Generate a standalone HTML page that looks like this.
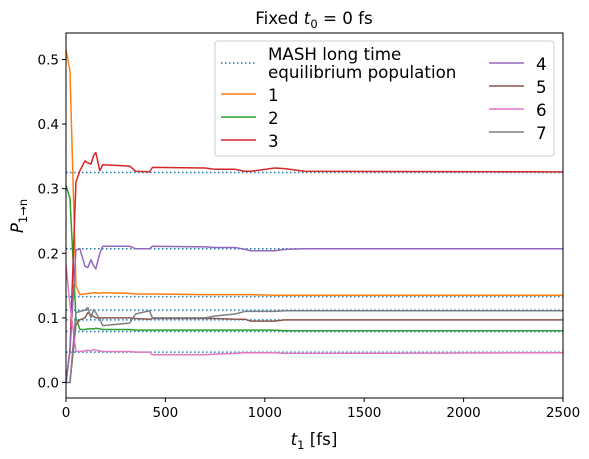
<!DOCTYPE html>
<html><head><meta charset="utf-8"><style>
body{margin:0;background:#fff}
svg{display:block;font-family:"DejaVu Sans","Liberation Sans",sans-serif}
</style></head><body>
<svg id="chart" width="589" height="459" viewBox="0 0 589 459" xmlns="http://www.w3.org/2000/svg">
<rect width="589" height="459" fill="#fff"/>
<g id="plot"></g>
<g id="axes"></g>
<text x="314" y="24" font-size="16.7" text-anchor="middle">Fixed <tspan font-style="italic">t</tspan><tspan font-size="11.5" dy="4">0</tspan><tspan dy="-4"> = 0 fs</tspan></text>
<text x="314" y="445" font-size="16.7" text-anchor="middle"><tspan font-style="italic">t</tspan><tspan font-size="11.5" dy="4">1</tspan><tspan dy="-4"> [fs]</tspan></text>
<text transform="translate(23,216) rotate(-90)" font-size="16.7" text-anchor="middle"><tspan font-style="italic">P</tspan><tspan font-size="11.5" dy="4">1→n</tspan></text>
<g id="legend">
<rect x="215" y="41" width="339" height="115" rx="3" fill="#fff" fill-opacity="0.8" stroke="#ccc"/>
<line x1="221" y1="63" x2="256" y2="63" stroke="#1f77b4" stroke-width="1.5" stroke-dasharray="1.5,2.5"/>
<text x="268" y="60" font-size="16.7">MASH long time</text>
<text x="268" y="78" font-size="16.7">equilibrium population</text>
<line x1="221" y1="94" x2="256" y2="94" stroke="#ff7f0e" stroke-width="1.5"/><text x="268" y="101" font-size="16.7">1</text>
<line x1="221" y1="117" x2="256" y2="117" stroke="#2ca02c" stroke-width="1.5"/><text x="268" y="124" font-size="16.7">2</text>
<line x1="221" y1="140" x2="256" y2="140" stroke="#d62728" stroke-width="1.5"/><text x="268" y="147" font-size="16.7">3</text>
<line x1="489" y1="63" x2="524" y2="63" stroke="#9467bd" stroke-width="1.5"/><text x="536" y="70" font-size="16.7">4</text>
<line x1="489" y1="86" x2="524" y2="86" stroke="#8c564b" stroke-width="1.5"/><text x="536" y="93" font-size="16.7">5</text>
<line x1="489" y1="109" x2="524" y2="109" stroke="#e377c2" stroke-width="1.5"/><text x="536" y="116" font-size="16.7">6</text>
<line x1="489" y1="132" x2="524" y2="132" stroke="#7f7f7f" stroke-width="1.5"/><text x="536" y="139" font-size="16.7">7</text>
</g>
</svg>
<script>
const xTicks = [0, 500, 1000, 1500, 2000, 2500];
const yTicks = [0.0, 0.1, 0.2, 0.3, 0.4, 0.5];
const yTickLabels = ["0.0", "0.1", "0.2", "0.3", "0.4", "0.5"];
const equilibrium = [0.325, 0.207, 0.133, 0.112, 0.097, 0.079, 0.047];
const t1 = [0, 20, 50, 70, 95, 110, 125, 140, 150, 170, 185, 320, 350, 420, 435, 700, 750, 850, 900, 930, 1050, 1100, 1200, 2500];
const series1 = [0.515, 0.482, 0.149, 0.136, 0.137, 0.138, 0.138, 0.139, 0.139, 0.138, 0.139, 0.138, 0.137, 0.137, 0.137, 0.136, 0.136, 0.136, 0.136, 0.136, 0.135, 0.135, 0.135, 0.135];
const series2 = [0.305, 0.285, 0.100, 0.082, 0.082, 0.083, 0.083, 0.083, 0.084, 0.083, 0.082, 0.082, 0.081, 0.081, 0.081, 0.081, 0.081, 0.081, 0.081, 0.081, 0.081, 0.080, 0.080, 0.080];
const series3 = [0.0, 0.05, 0.31, 0.328, 0.343, 0.340, 0.338, 0.352, 0.356, 0.328, 0.337, 0.335, 0.327, 0.326, 0.333, 0.332, 0.330, 0.330, 0.327, 0.327, 0.332, 0.331, 0.327, 0.326];
const series4 = [0.0, 0.05, 0.205, 0.207, 0.180, 0.178, 0.190, 0.180, 0.176, 0.200, 0.211, 0.211, 0.207, 0.207, 0.211, 0.210, 0.209, 0.209, 0.206, 0.204, 0.204, 0.206, 0.207, 0.207];
const series5 = [0.0, 0.0, 0.09, 0.097, 0.100, 0.108, 0.105, 0.102, 0.100, 0.100, 0.100, 0.100, 0.099, 0.098, 0.099, 0.099, 0.099, 0.098, 0.098, 0.095, 0.095, 0.097, 0.097, 0.097];
const series6 = [0.182, 0.120, 0.048, 0.048, 0.049, 0.050, 0.049, 0.051, 0.050, 0.049, 0.048, 0.048, 0.047, 0.047, 0.043, 0.043, 0.044, 0.045, 0.046, 0.046, 0.046, 0.045, 0.045, 0.046];
const series7 = [0.0, 0.0, 0.108, 0.110, 0.112, 0.116, 0.100, 0.113, 0.108, 0.098, 0.088, 0.092, 0.106, 0.111, 0.100, 0.100, 0.103, 0.106, 0.110, 0.110, 0.110, 0.111, 0.111, 0.111];
const seriesList = [series1, series2, series3, series4, series5, series6, series7];
const colors = ["#ff7f0e", "#2ca02c", "#d62728", "#9467bd", "#8c564b", "#e377c2", "#7f7f7f"];

const L = 66, R = 563, T = 33, B = 398;
const xMin = 0, xMax = 2500, yMin = -0.024, yMax = 0.541;
function xs(v) { return L + (v - xMin) / (xMax - xMin) * (R - L); }
function ys(v) { return B - (v - yMin) / (yMax - yMin) * (B - T); }

const NS = "http://www.w3.org/2000/svg";
const plot = document.getElementById("plot");
const axes = document.getElementById("axes");
function mk(tag, attrs, parent) {
  const e = document.createElementNS(NS, tag);
  for (const k in attrs) e.setAttribute(k, attrs[k]);
  parent.appendChild(e);
  return e;
}

equilibrium.forEach((v, i) => {
  const el = mk("line", { x1: L, x2: R, y1: ys(v), y2: ys(v), stroke: "#1f77b4", "stroke-width": 1.5, "stroke-dasharray": "1.5,2.5" }, plot);
  
  
});

seriesList.forEach((s, i) => {
  const d = s.map((v, j) => (j ? "L" : "M") + xs(t1[j]).toFixed(2) + "," + ys(v).toFixed(2)).join(" ");
  const el = mk("path", { d: d, fill: "none", stroke: colors[i], "stroke-width": 1.5, "stroke-linejoin": "round" }, plot);
  
  
});

const frame = mk("rect", { x: L, y: T, width: R - L, height: B - T, fill: "none", stroke: "#000", "stroke-width": 1 }, axes);



xTicks.forEach(v => {
  const x = xs(v);
  const tk = mk("line", { x1: x, x2: x, y1: B, y2: B + 4, stroke: "#000" }, axes);
  
  
  const tx = mk("text", { x: x, y: B + 19, "font-size": 13.5, "text-anchor": "middle" }, axes);
  tx.textContent = String(v);
  
  
});
yTicks.forEach((v, i) => {
  const y = ys(v);
  const tk = mk("line", { x1: L - 4, x2: L, y1: y, y2: y, stroke: "#000" }, axes);
  
  
  const tx = mk("text", { x: L - 7, y: y + 5, "font-size": 13.5, "text-anchor": "end" }, axes);
  tx.textContent = yTickLabels[i];
  
  
});
</script>
</body></html>
